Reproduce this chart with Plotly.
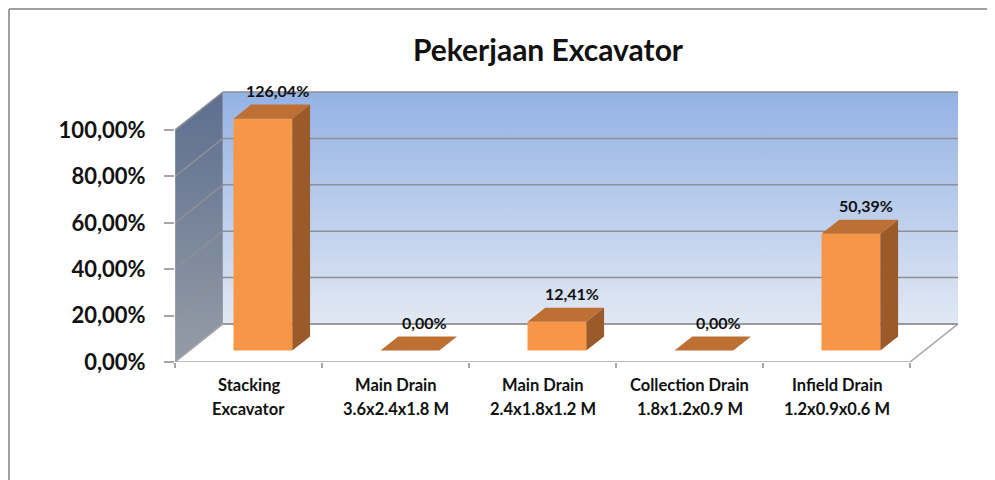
import plotly.graph_objects as go

# data
CAT_LINE1 = ["Stacking", "Main Drain", "Main Drain", "Collection Drain", "Infield Drain"]
CAT_LINE2 = ["Excavator", "3.6x2.4x1.8 M", "2.4x1.8x1.2 M", "1.8x1.2x0.9 M", "1.2x0.9x0.6 M"]
VALUES = [126.04, 0.00, 12.41, 0.00, 50.39]
Y_TICKS = [0, 20, 40, 60, 80, 100]
Y_TICK_TEXT = ["0,00%", "20,00%", "40,00%", "60,00%", "80,00%", "100,00%"]
AXIS_MAX = 100  # excel clips bars at the axis max

# pseudo-3d geometry (data units)
DX, DY = 0.3265, 16.4       # full depth offset of the floor / walls
F0, F1 = 0.30, 0.67         # bar front / back depth fraction
BW = 0.40                   # bar width in categories

FONT = "Lato, 'Open Sans', sans-serif"
FRONT, TOP, SIDE = "#F79646", "#BE6F33", "#9A5A2A"
GRID = "#8E9096"

# page body has an 8px margin, so the figure is laid out 8px smaller
W, H = 987, 472
ML, MT, MR, MB = 167, 62, 35, 118
PW, PH = W - ML - MR, H - MT - MB

n = len(CAT_LINE1)
x_lo, x_hi = -0.5, n - 0.5
X_RANGE = [x_lo, x_hi + 0.34]
Y_RANGE = [0, 125.9]

fig = go.Figure()

# side wall (left)
fig.add_trace(go.Scatter(
    x=[x_lo, x_lo, x_lo + DX, x_lo + DX, x_lo],
    y=[0, AXIS_MAX, AXIS_MAX + DY, DY, 0],
    mode="lines", fill="toself", line=dict(color="#A8ADB5", width=1),
    fillgradient=dict(type="vertical", colorscale=[[0, "#959CA6"], [1, "#5C6E8F"]]),
    hoverinfo="skip", showlegend=False,
))
# back wall
fig.add_trace(go.Scatter(
    x=[x_lo + DX, x_hi + DX, x_hi + DX, x_lo + DX, x_lo + DX],
    y=[DY, DY, AXIS_MAX + DY, AXIS_MAX + DY, DY],
    mode="none", fill="toself",
    fillgradient=dict(type="vertical", colorscale=[[0, "#E1E8F4"], [1, "#93B2E4"]]),
    hoverinfo="skip", showlegend=False,
))
# floor
fig.add_trace(go.Scatter(
    x=[x_lo, x_hi, x_hi + DX, x_lo + DX, x_lo],
    y=[0, 0, DY, DY, 0],
    mode="lines", fill="toself", fillcolor="white",
    line=dict(color="#A6A6A6", width=1.5),
    hoverinfo="skip", showlegend=False,
))
# gridlines: back wall + side wall diagonals
gx, gy = [], []
for v in Y_TICKS:
    gx += [x_lo + DX, x_hi + DX, None]
    gy += [v + DY, v + DY, None]
    if v > 0:
        gx += [x_lo, x_lo + DX, None]
        gy += [v, v + DY, None]
fig.add_trace(go.Scatter(
    x=gx, y=gy, mode="lines", line=dict(color=GRID, width=1.5),
    hoverinfo="skip", showlegend=False,
))

# bars (on overlay axes so they sit above the walls)
heights = [min(v, AXIS_MAX) for v in VALUES]
fx = [i + F0 * DX for i in range(n)]
fig.add_trace(go.Bar(
    x=fx, y=heights, base=[F0 * DY] * n, width=BW,
    marker=dict(color=FRONT, line=dict(width=0)),
    xaxis="x2", yaxis="y2", hoverinfo="skip", showlegend=False,
))
tx, ty, sx, sy = [], [], [], []
d = F1 - F0
for c, h in zip(fx, heights):
    l, r = c - BW / 2, c + BW / 2
    tx += [l, r, r + d * DX, l + d * DX, l, None]
    ty += [h + F0 * DY, h + F0 * DY, h + F1 * DY, h + F1 * DY, h + F0 * DY, None]
    if h > 0:
        sx += [r, r, r + d * DX, r + d * DX, r, None]
        sy += [F0 * DY, h + F0 * DY, h + F1 * DY, F1 * DY, F0 * DY, None]
fig.add_trace(go.Scatter(
    x=sx, y=sy, mode="none", fill="toself", fillcolor=SIDE,
    xaxis="x2", yaxis="y2", hoverinfo="skip", showlegend=False,
))
fig.add_trace(go.Scatter(
    x=tx, y=ty, mode="none", fill="toself", fillcolor=TOP,
    xaxis="x2", yaxis="y2", hoverinfo="skip", showlegend=False,
))

# data labels
for i, (v, h) in enumerate(zip(VALUES, heights)):
    fig.add_annotation(
        x=i + F0 * DX + 0.1, y=h + F1 * DY, xref="x2", yref="y2",
        text=f"{v:.2f}".replace(".", ",") + "%", showarrow=False,
        yanchor="bottom", yshift=3,
        font=dict(family=FONT, size=16, color="#111111", weight="bold"),
    )

# category labels (two rows, Excel-like line spacing)
for i, (a, b) in enumerate(zip(CAT_LINE1, CAT_LINE2)):
    for txt, shift in ((a, -23), (b, -47)):
        fig.add_annotation(
            x=i, y=0, xref="x", yref="y", text=txt, showarrow=False,
            yanchor="middle", yshift=shift,
            font=dict(family=FONT, size=16.5, color="#111111", weight="bold"),
        )

# outer chart frame: only the top and left edges are inside the page
fx0, fy1 = (1 - ML) / PW, (PH + MT - 1) / PH
fig.add_shape(type="line", xref="paper", yref="paper",
              x0=fx0, x1=(W - ML) / PW, y0=fy1, y1=fy1,
              line=dict(color="#A0A0A0", width=2), layer="below")
fig.add_shape(type="line", xref="paper", yref="paper",
              x0=fx0, x1=fx0, y0=(PH + MT - H) / PH, y1=fy1,
              line=dict(color="#A0A0A0", width=2), layer="below")

fig.update_layout(
    width=W, height=H,
    margin=dict(l=ML, r=MR, t=MT, b=MB),
    paper_bgcolor="white", plot_bgcolor="white",
    title=dict(
        text="Pekerjaan Excavator", x=540 / W, xanchor="center",
        y=1 - 42 / H, yanchor="middle",
        font=dict(family=FONT, size=30, color="#111111", weight="bold"),
    ),
    xaxis=dict(
        range=X_RANGE, showticklabels=False,
        showgrid=False, zeroline=False, showline=False, ticks="",
    ),
    yaxis=dict(
        range=Y_RANGE, tickvals=Y_TICKS, ticktext=Y_TICK_TEXT,
        showgrid=False, zeroline=False, showline=False,
        ticks="outside", ticklen=10, tickcolor="#A6A6A6", tickwidth=1.5,
        ticklabelstandoff=14,
        tickfont=dict(family=FONT, size=22, color="#111111", weight="bold"),
    ),
    xaxis2=dict(
        range=X_RANGE, overlaying="x", anchor="y2",
        tickvals=[k - 0.5 for k in range(n + 1)], showticklabels=False,
        ticks="outside", ticklen=5, tickcolor="#A6A6A6", tickwidth=1.5,
        showgrid=False, zeroline=False, showline=False,
    ),
    yaxis2=dict(
        range=Y_RANGE, overlaying="y", anchor="x2",
        showticklabels=False, showgrid=False, zeroline=False, showline=False,
    ),
)

fig.write_html("out.html")
